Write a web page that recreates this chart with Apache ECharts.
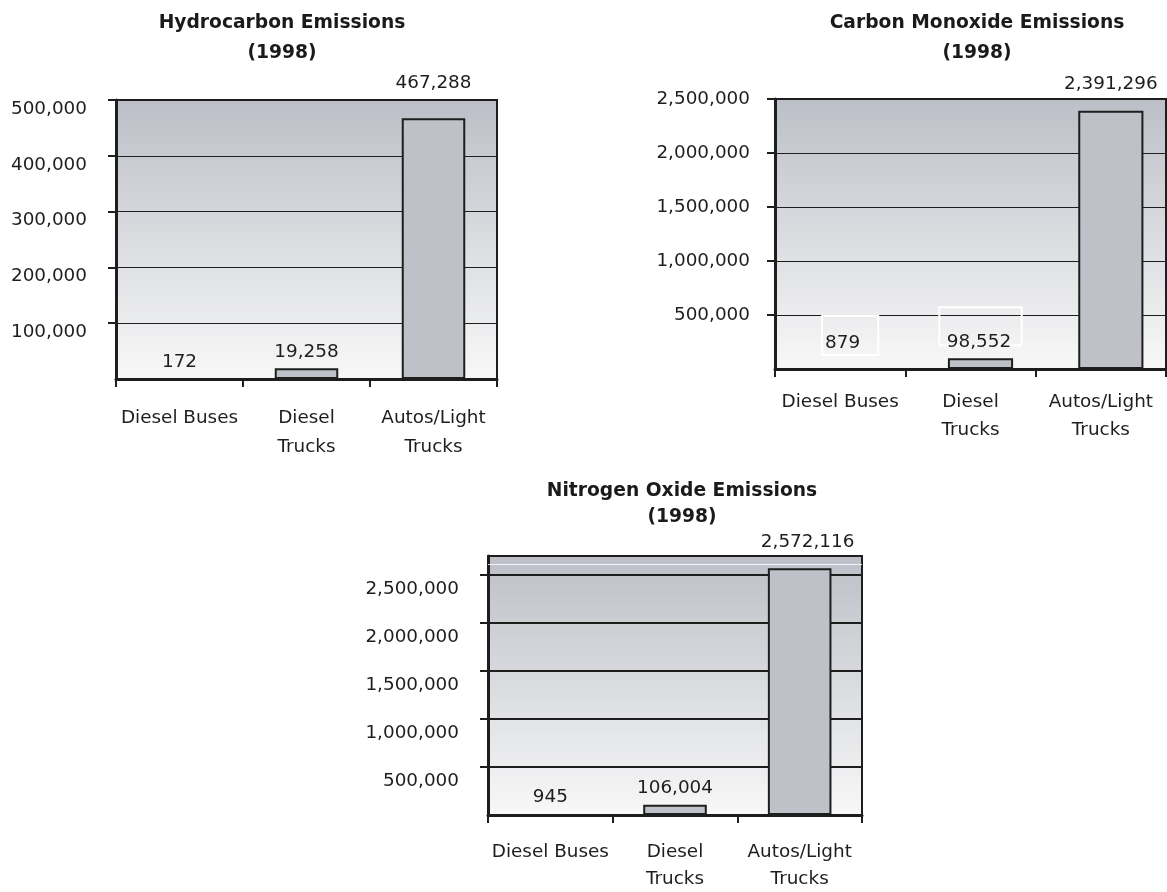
<!DOCTYPE html>
<html>
<head>
<meta charset="utf-8">
<title>Vehicle Emissions (1998)</title>
<script src="https://cdn.jsdelivr.net/npm/echarts@6/dist/echarts.min.js"></script>
<style>
  html, body { margin: 0; padding: 0; background: #ffffff; overflow: hidden; }
  #chart { width: 1190px; height: 892px; }
</style>
</head>
<body>
<div id="chart"></div>
<script>
// Emission totals by vehicle class, 1998
const categories = ['Diesel Buses', 'Diesel\nTrucks', 'Autos/Light\nTrucks'];
const hydrocarbon = [172, 19258, 467288];
const carbonMonoxide = [879, 98552, 2391296];
const nitrogenOxide = [945, 106004, 2572116];

// Value-axis ranges
const hcAxis = { min: 0, max: 500000, interval: 100000 };
const coAxis = { min: 0, max: 2500000, interval: 500000 };
const noxAxis = { min: 0, max: 2700000, interval: 500000 };
const noxHighlight = 2610000;

const FONT = 'DejaVu Sans';
const INK = '#1e1e1e';
const fmt = v => Number(v).toLocaleString('en-US');

const plotFill = {
  type: 'linear', x: 0, y: 0, x2: 0, y2: 1,
  colorStops: [
    { offset: 0, color: '#bcbfc7' },
    { offset: 1, color: '#f8f8f8' }
  ]
};

// label placement for each bar (gap above the bar top, extra box styling)
const hcLabelStyle = [{ distance: 7 }, { distance: 7 }, { distance: 26 }];
const coLabelStyle = [
  { distance: 13, padding: [18, 18, 3, 3], lineHeight: 18, borderColor: '#ffffff', borderWidth: 2 },
  { distance: 13, padding: [32, 10.5, 0, 7.5], lineHeight: 6, borderColor: '#ffffff', borderWidth: 2 },
  { distance: 18 }
];
const noxLabelStyle = [{ distance: 8 }, { distance: 8 }, { distance: 17, offset: [8, 0] }];

function barData(values, styles) {
  return values.map((v, i) => ({ value: v, label: styles[i] }));
}

function gridBox(left, top, width, height, visible) {
  return visible
    ? { left, top, width, height, show: true, backgroundColor: plotFill, borderColor: INK, borderWidth: 2, containLabel: false }
    : { left, top, width, height, show: false, containLabel: false };
}

function catAxis(gridIndex, margin, lineHeight, visible) {
  if (!visible) return { type: 'category', gridIndex, data: categories, show: false };
  return {
    type: 'category', gridIndex, data: categories,
    axisLine: { lineStyle: { color: INK, width: 3 } },
    axisTick: { show: true, length: 8, lineStyle: { color: INK, width: 2 } },
    axisLabel: { color: INK, fontFamily: FONT, fontSize: 18.4, lineHeight, margin, interval: 0 }
  };
}

function valAxis(gridIndex, range, opts) {
  const o = opts || {};
  if (o.hidden) return Object.assign({ type: 'value', gridIndex, show: false, splitLine: { show: false } }, range);
  const label = {
    color: INK, fontFamily: FONT, fontSize: 18.4, margin: o.margin,
    showMinLabel: false, showMaxLabel: o.showMax !== false,
    formatter: fmt
  };
  if (o.labelBox) {
    // labels sit a little below their tick
    label.verticalAlign = 'top';
    label.lineHeight = o.labelBox;
  }
  return Object.assign({
    type: 'value', gridIndex,
    axisLine: { show: true, lineStyle: { color: INK, width: 3 } },
    axisTick: { show: true, length: 8, lineStyle: { color: INK, width: 2 } },
    splitLine: { show: true, lineStyle: { color: INK, width: o.gridWidth || 1 } },
    axisLabel: label
  }, range);
}

function barSeries(name, axisIndex, data, barWidth, extra) {
  return Object.assign({
    name, type: 'bar', xAxisIndex: axisIndex, yAxisIndex: axisIndex,
    data, barWidth,
    itemStyle: { color: '#bfc1c9', borderColor: INK, borderWidth: 2 },
    label: {
      show: true, position: 'top', color: INK, fontFamily: FONT, fontSize: 18.4,
      lineHeight: 18, formatter: p => fmt(p.value)
    }
  }, extra || {});
}

function titleBlock(text, cx, top, lineHeight) {
  return {
    text, left: cx, top, textAlign: 'center', padding: 0,
    textStyle: { fontFamily: FONT, fontSize: 18.7, fontWeight: 'bold', color: '#1a1a1a', lineHeight }
  };
}

const option = {
  animation: false,
  backgroundColor: '#ffffff',
  title: [
    titleBlock('Hydrocarbon Emissions\n(1998)', 282, 8, 30),
    titleBlock('Carbon Monoxide Emissions\n(1998)', 977, 8, 30),
    titleBlock('Nitrogen Oxide Emissions\n(1998)', 682, 478, 26)
  ],
  grid: [
    gridBox(116, 100, 381, 279, true),
    gridBox(775, 99, 391, 270, true),
    // bars of the carbon monoxide panel sit slightly right of their category centres
    gridBox(785, 99, 391, 270, false),
    gridBox(488, 556, 374, 263, true)
  ],
  xAxis: [
    catAxis(0, 25, 28.5, true),
    catAxis(1, 19, 28, true),
    catAxis(2, 0, 0, false),
    catAxis(3, 24, 26.5, true)
  ],
  yAxis: [
    valAxis(0, hcAxis, { margin: 29, labelBox: 18 }),
    valAxis(1, coAxis, { margin: 25 }),
    valAxis(2, coAxis, { hidden: true }),
    valAxis(3, noxAxis, { margin: 29, labelBox: 28, gridWidth: 2, showMax: false })
  ],
  series: [
    barSeries('Hydrocarbon', 0, barData(hydrocarbon, hcLabelStyle), '50%'),
    barSeries('Carbon Monoxide', 2, barData(carbonMonoxide, coLabelStyle), '50%'),
    barSeries('Nitrogen Oxide', 3, barData(nitrogenOxide, noxLabelStyle), '51%', {
      markLine: {
        silent: true, symbol: 'none', label: { show: false },
        lineStyle: { color: 'rgba(255,255,255,0.85)', width: 1, type: 'solid' },
        data: [{ yAxis: noxHighlight }]
      }
    })
  ]
};

const chart = echarts.init(document.getElementById('chart'), null, { renderer: 'canvas' });
chart.setOption(option);
</script>
</body>
</html>
